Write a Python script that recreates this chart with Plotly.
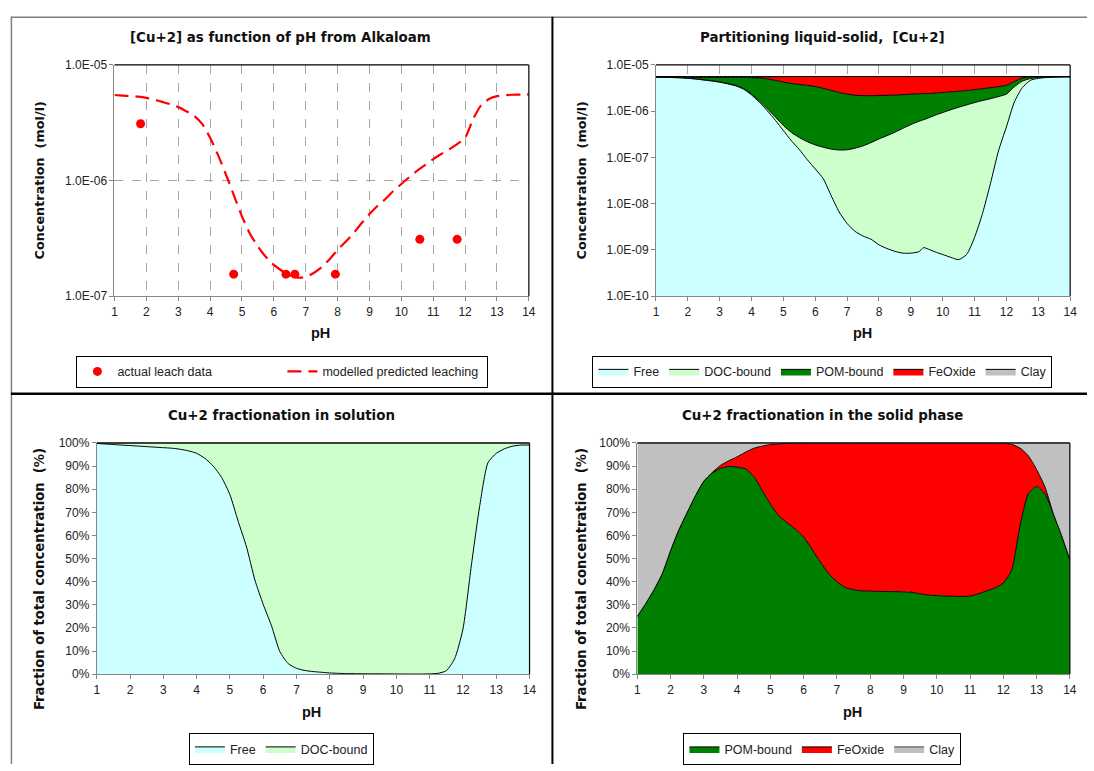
import plotly.graph_objects as go
import numpy as np

W, H = 1094, 771
FONT = "Liberation Sans"
TFONT = "DejaVu Sans"

# ---------------- data ----------------
ph = [1.0, 1.25, 1.5, 1.75, 2.0, 2.25, 2.5, 2.75, 3.0, 3.25, 3.5, 3.75, 4.0, 4.25, 4.5, 4.75,
      5.0, 5.25, 5.5, 5.75, 6.0, 6.25, 6.5, 6.75, 7.0, 7.25, 7.5, 7.75, 8.0, 8.25, 8.5, 8.75,
      9.0, 9.25, 9.4, 9.5, 9.75, 10.0, 10.25, 10.5, 10.75, 11.0, 11.25, 11.5, 11.75, 12.0,
      12.25, 12.5, 12.75, 13.0, 13.25, 13.5, 13.75, 14.0]

# log10 of total dissolved Cu (mol/l) = modelled predicted leaching
log_dissolved = [-5.26, -5.265, -5.27, -5.275, -5.285, -5.30, -5.32, -5.34, -5.365, -5.40, -5.44,
                 -5.51, -5.63, -5.78, -5.95, -6.13, -6.31, -6.46, -6.57, -6.66, -6.73, -6.78,
                 -6.82, -6.84, -6.835, -6.80, -6.75, -6.68, -6.60, -6.53, -6.455, -6.37, -6.29,
                 -6.22, -6.185, -6.16, -6.09, -6.03, -5.97, -5.915, -5.865, -5.815, -5.77, -5.73,
                 -5.685, -5.63, -5.47, -5.35, -5.295, -5.27, -5.262, -5.258, -5.256, -5.255]

# log10 of free Cu+2 (mol/l)
log_free = [-5.261, -5.267, -5.273, -5.279, -5.290, -5.306, -5.327, -5.348, -5.374, -5.41, -5.452,
            -5.525, -5.65, -5.81, -5.996, -6.20, -6.42, -6.64, -6.83, -7.05, -7.25, -7.46, -7.83,
            -8.18, -8.43, -8.60, -8.70, -8.77, -8.89, -8.97, -9.03, -9.07, -9.07, -9.04, -8.95,
            -8.97, -9.04, -9.10, -9.16, -9.21, -9.10, -8.73, -8.21, -7.56, -6.86, -6.34, -5.80,
            -5.49, -5.334, -5.29, -5.273, -5.264, -5.26, -5.259]

# solid-phase fractionation (% of solid)
pom_pct = [25, 30.5, 36.5, 43.5, 53.5, 62.5, 70, 77.3, 83.5, 87, 89, 89.8, 89.5, 88.8, 85.5, 79.5,
           73.5, 68.5, 65.5, 62.7, 59.3, 54, 48.5, 43.5, 40, 37.5, 36.5, 36, 35.9, 35.8, 35.7, 35.7,
           35.6, 35.4, 35.0, 34.7, 34.2, 34, 33.8, 33.7, 33.6, 33.8, 34.7, 36, 37.3, 39.4,
           45, 64, 78, 81.2, 78, 69.5, 60, 49.5]
fe_pct = [0, 0, 0, 0, 0, 0, 0, 0, 0, 0.2, 1.3, 2.5, 4.5, 7.2, 12.2, 19.1,
          25.8, 31.1, 34.3, 37.2, 40.7, 46, 51.5, 56.5, 60, 62.5, 63.5, 64, 64.1, 64.2, 64.3, 64.3,
          64.4, 64.6, 65.0, 65.3, 65.8, 66, 66.2, 66.3, 66.4, 66.2, 65.3, 64, 62.7, 60.6,
          54.4, 33.8, 16.5, 7.3, 3, 0, 0, 0]

log_total = -5.25  # total Cu in the system (mol/l)

leach_ph = [1.82, 4.74, 6.38, 6.66, 7.93, 10.58, 11.75]
leach_conc = [3.1e-6, 1.55e-7, 1.55e-7, 1.55e-7, 1.55e-7, 3.1e-7, 3.1e-7]

# ---------------- derived series ----------------
x = np.array(ph)
dissolved = 10 ** np.array(log_dissolved)
free = 10 ** np.array(log_free)
doc = dissolved - free
total = 10 ** log_total
solid = total - dissolved
pom = solid * np.array(pom_pct) / 100
fe = solid * np.array(fe_pct) / 100
clay = solid - pom - fe

free_frac = free / dissolved * 100
pomp = np.array(pom_pct, dtype=float)
fep = np.array(fe_pct, dtype=float)

C_FREE = "#CCFFFF"
C_DOC = "#CCFFCC"
C_POM = "#008000"
C_FE = "#FF0000"
C_CLAY = "#C0C0C0"
SMOOTH = dict(shape="spline", smoothing=0.6)


def px(v):
    return v / W


def py(v):
    return 1 - v / H


fig = go.Figure()

# ---- chart 1: top-left ----
fig.add_trace(go.Scatter(x=leach_ph, y=leach_conc, mode="markers", name="actual leach data",
                         marker=dict(color="#FF0000", size=9), xaxis="x", yaxis="y",
                         legend="legend"))
fig.add_trace(go.Scatter(x=x, y=dissolved, mode="lines", name="modelled predicted leaching",
                         line=dict(color="#FF0000", width=2.2, dash="14px,7px", shape="spline",
                                   smoothing=0.6),
                         xaxis="x", yaxis="y", legend="legend"))

# ---- chart 2: top-right (stacked concentrations, log axis) ----
base = np.full(len(x), 1e-10)
fig.add_trace(go.Scatter(x=x, y=base, mode="lines", line=dict(width=0), showlegend=False,
                         hoverinfo="skip", xaxis="x2", yaxis="y2"))
cum = np.zeros(len(x))
for name, arr, col in [("Free", free, C_FREE), ("DOC-bound", doc, C_DOC),
                       ("POM-bound", pom, C_POM), ("FeOxide", fe, C_FE), ("Clay", clay, C_CLAY)]:
    cum = cum + arr
    fig.add_trace(go.Scatter(x=x, y=cum.copy(), mode="lines", name=name, fill="tonexty",
                             fillcolor=col, line=dict(color="black", width=1, **SMOOTH),
                             xaxis="x2", yaxis="y2", legend="legend2"))

# ---- chart 3: bottom-left (solution fractionation) ----
fig.add_trace(go.Scatter(x=x, y=free_frac, mode="lines", name="Free", fill="tozeroy",
                         fillcolor=C_FREE, line=dict(color="black", width=1, **SMOOTH),
                         xaxis="x3", yaxis="y3", legend="legend3"))
fig.add_trace(go.Scatter(x=x, y=free_frac + (100 - free_frac), mode="lines", name="DOC-bound",
                         fill="tonexty", fillcolor=C_DOC, line=dict(color="black", width=1),
                         xaxis="x3", yaxis="y3", legend="legend3"))

# ---- chart 4: bottom-right (solid fractionation) ----
fig.add_trace(go.Scatter(x=x, y=pomp, mode="lines", name="POM-bound", fill="tozeroy",
                         fillcolor=C_POM, line=dict(color="black", width=1, **SMOOTH),
                         xaxis="x4", yaxis="y4", legend="legend4"))
fig.add_trace(go.Scatter(x=x, y=pomp + fep, mode="lines", name="FeOxide", fill="tonexty",
                         fillcolor=C_FE, line=dict(color="black", width=1, **SMOOTH),
                         xaxis="x4", yaxis="y4", legend="legend4"))
fig.add_trace(go.Scatter(x=x, y=pomp + fep + (100 - pomp - fep), mode="lines", name="Clay",
                         fill="tonexty", fillcolor=C_CLAY, line=dict(color="#404040", width=1),
                         xaxis="x4", yaxis="y4", legend="legend4"))

# ---------------- axes ----------------
boxes = {
    "1": (112.5, 530.7, 59, 294.5),
    "2": (659, 1077, 59, 294.5),
    "3": (94.6, 531.4, 444, 679.5),
    "4": (640.2, 1076.7, 444, 679.5),
}

tickfont = dict(family=FONT, size=12, color="#222222")


def xax(key, grid):
    l, r, t, b = boxes[key]
    return dict(domain=[px(l), px(r)], range=[1, 14], tickvals=list(range(1, 15)),
                ticks="outside", ticklen=4, tickcolor="#868686", showline=True,
                linecolor="#868686", linewidth=1, tickfont=tickfont, zeroline=False,
                showgrid=grid, gridcolor="#A6A6A6", griddash="dash", gridwidth=1,
                anchor="y" + ("" if key == "1" else key), fixedrange=True)


def yax_log(key, lo, labels, grid):
    l, r, t, b = boxes[key]
    return dict(domain=[py(b), py(t)], type="log", range=[lo, -5],
                tickvals=[10.0 ** k for k in range(lo, -4)], ticktext=labels,
                ticks="outside", ticklen=4, tickcolor="#868686", showline=True,
                linecolor="#868686", linewidth=1, tickfont=tickfont, zeroline=False,
                showgrid=grid, gridcolor="#A6A6A6", griddash="dash",
                anchor="x" + ("" if key == "1" else key), fixedrange=True)


def yax_pct(key):
    l, r, t, b = boxes[key]
    return dict(domain=[py(b), py(t)], range=[0, 100], tickvals=list(range(0, 101, 10)),
                ticktext=[f"{v}%" for v in range(0, 101, 10)],
                ticks="outside", ticklen=4, tickcolor="#868686", showline=True,
                linecolor="#868686", linewidth=1, tickfont=tickfont, zeroline=False,
                showgrid=False, anchor="x" + key, fixedrange=True)


layout = dict(
    width=W, height=H, margin=dict(l=0, r=0, t=0, b=0),
    paper_bgcolor="white", plot_bgcolor="white",
    font=dict(family=FONT, size=12, color="#222222"),
    xaxis=xax("1", True), yaxis=yax_log("1", -7, ["1.0E-07", "1.0E-06", "1.0E-05"], True),
    xaxis2=xax("2", True),
    yaxis2=yax_log("2", -10, ["1.0E-10", "1.0E-09", "1.0E-08", "1.0E-07", "1.0E-06", "1.0E-05"], False),
    xaxis3=xax("3", False), yaxis3=yax_pct("3"),
    xaxis4=xax("4", False), yaxis4=yax_pct("4"),
)

legfont = dict(family=FONT, size=12.5, color="#222222")
common_leg = dict(orientation="h", bordercolor="black", borderwidth=1, bgcolor="white",
                  font=legfont, xanchor="center", yanchor="middle", tracegroupgap=0,
                  traceorder="normal", itemwidth=30)
layout["legend"] = dict(common_leg, x=px(282), y=py(371.5), entrywidth=160)
layout["legend2"] = dict(common_leg, x=px(827), y=py(371.5))
layout["legend3"] = dict(common_leg, x=px(281), y=py(756))
layout["legend4"] = dict(common_leg, x=px(827), y=py(756))
fig.update_layout(**layout)

# ---------------- titles / axis titles ----------------
ann = []


def text(s, xp, yp, size, angle=0, fam=TFONT):
    ann.append(dict(text="<b>" + s + "</b>", x=px(xp), y=py(yp), xref="paper", yref="paper",
                    showarrow=False, textangle=angle, xanchor="center", yanchor="middle",
                    font=dict(family=fam, size=size, color="#111111")))


text("[Cu+2] as function of pH from Alkaloam", 280, 31, 13.4)
text("Partitioning liquid-solid,  [Cu+2]", 827, 31, 13.4)
text("Cu+2 fractionation in solution", 281, 416, 13.4)
text("Cu+2 fractionation in the solid phase", 827, 416, 13.4)
text("Concentration  (mol/l)", 37, 177, 12.8, -90)
text("Concentration  (mol/l)", 584, 177, 12.8, -90)
text("Fraction of total concentration  (%)", 37, 583, 13.2, -90)
text("Fraction of total concentration  (%)", 584, 583, 13.2, -90)
text("pH", 320, 332, 14.5, fam=FONT)
text("pH", 867, 332, 14.5, fam=FONT)
text("pH", 311, 718, 14.5, fam=FONT)
text("pH", 857, 718, 14.5, fam=FONT)
fig.update_layout(annotations=ann)

# ---------------- frame lines ----------------
shapes = []


def line(x0, y0, x1, y1, color, w):
    shapes.append(dict(type="line", xref="paper", yref="paper", x0=px(x0), y0=py(y0),
                       x1=px(x1), y1=py(y1), line=dict(color=color, width=w)))


line(8, 10.5, 1094, 10.5, "#7F7F7F", 1.5)
line(8.5, 10, 8.5, 771, "#7F7F7F", 1.5)
line(554.5, 10, 554.5, 771, "black", 2)
line(8, 394, 1094, 394, "black", 2.5)
for key, (l, r, t, b) in boxes.items():
    line(l, t, r, t, "black", 1.2)
    line(r, t, r, b, "black", 1.2)
fig.update_layout(shapes=shapes)

fig.write_html("out.html", config={"displayModeBar": False})
